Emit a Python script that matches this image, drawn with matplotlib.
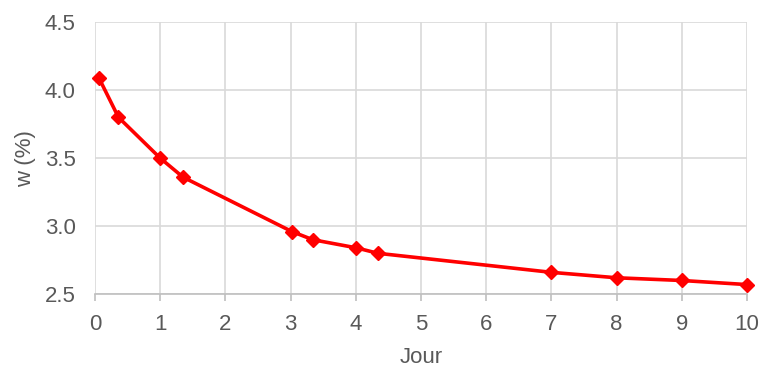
import matplotlib
matplotlib.use("Agg")
import matplotlib.pyplot as plt

# data
jour = [0.06, 0.36, 1.0, 1.35, 3.02, 3.34, 4.01, 4.34, 7.0, 8.0, 9.0, 10.0]
w_pct = [4.09, 3.80, 3.50, 3.36, 2.96, 2.90, 2.84, 2.80, 2.66, 2.62, 2.60, 2.57]
x_ticks = list(range(0, 11))
y_ticks = [2.5, 3.0, 3.5, 4.0, 4.5]

plt.rcParams["font.family"] = ["Liberation Sans", "DejaVu Sans"]

fig = plt.figure(figsize=(7.63, 3.69), dpi=100)
ax = fig.add_axes([0.1245, 0.203, 0.8545, 0.737])

ax.plot(jour, w_pct, color="#ff0000", lw=2.6, marker="D", ms=7,
        markeredgecolor="#ff0000", zorder=3, clip_on=False)

ax.set_xlim(0, 10)
ax.set_ylim(2.5, 4.5)
ax.set_xticks(x_ticks)
ax.set_yticks(y_ticks)
ax.set_yticklabels([f"{v:.1f}" for v in y_ticks])

ax.grid(True, color="#d9d9d9", lw=1.2)
ax.set_axisbelow(True)
for s in ["top", "right", "left"]:
    ax.spines[s].set_visible(False)
ax.spines["bottom"].set_color("#bfbfbf")
ax.spines["bottom"].set_linewidth(1.2)

ax.tick_params(axis="x", colors="#595959", labelsize=16, length=5,
               width=1.2, color="#bfbfbf", pad=9)
ax.tick_params(axis="y", colors="#595959", labelsize=16, length=0, pad=14)

ax.set_xlabel("Jour", fontsize=16, color="#595959", labelpad=9)
ax.set_ylabel("w (%)", fontsize=16, color="#595959", labelpad=6)

fig.savefig("out.png", dpi=100)
